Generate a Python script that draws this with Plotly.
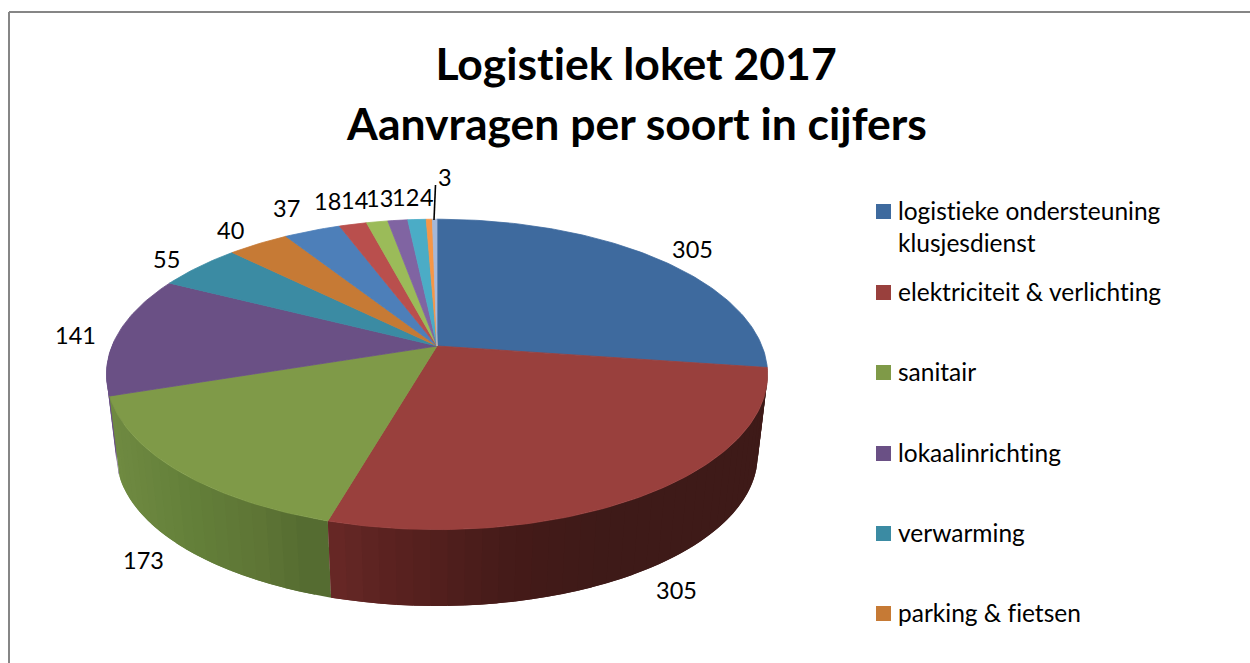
import numpy as np
import plotly.graph_objects as go

# ---- data ----
slice_values = [305, 305, 173, 141, 55, 40, 37, 18, 14, 13, 12, 4, 3]
slice_colors = ["#3e6a9e", "#99403d", "#7f9a48", "#6a5085", "#3b8ba3", "#c67a35",
                "#4d7fb9", "#b94f4d", "#9bbb59", "#8064a2", "#4bacc6", "#f79646", "#a5b8d8"]
legend_labels = ["logistieke ondersteuning<br>klusjesdienst", "elektriciteit &amp; verlichting",
                 "sanitair", "lokaalinrichting", "verwarming", "parking &amp; fietsen"]
title_lines = ["Logistiek loket 2017", "Aanvragen per soort in cijfers"]

# ---- layout constants (pixels; axes map 1:1 on the page) ----
W, H = 1250, 663
CX, CY = 437, 346            # centre of the top disc
RX, RY, K = 325, 150, 0.183  # perspective disc
BOT_CY, BOT_S = 428, 0.97    # lower disc
FONT = "Lato"
LABEL_POS = [(692, 249), (676, 590), (143, 560), (75, 335), (166, 259), (230, 230), (286, 208),
             (327.5, 201), (354.5, 200), (379, 198), (405, 197), (427, 197), (445, 177)]
LEGEND_X, LEGEND_TEXT_X = 883.5, 898
LEGEND_Y = [211.5, 292.5, 372.5, 453.5, 533.5, 613.5]
TITLE_Y = [62, 122]
LABEL_SIZE, LEGEND_SIZE, TITLE_SIZE = 23.5, 24.5, 44.5


def top_pt(theta):
    s, c = np.sin(theta), np.cos(theta)
    w = 1 + K * c
    return CX + RX * s / w, CY - RY * c / w


def bot_pt(theta):
    s, c = np.sin(theta), np.cos(theta)
    w = 1 + K * c
    return CX + BOT_S * RX * s / w, BOT_CY - BOT_S * RY * c / w


def hex_rgb(h):
    return np.array([int(h[i:i + 2], 16) for i in (1, 3, 5)], dtype=float)


def ramp(stops, x):
    xs = [p[0] for p in stops]
    cols = np.array([hex_rgb(p[1]) for p in stops])
    return "rgb(%d,%d,%d)" % tuple(np.interp(x, xs, cols[:, i]) for i in range(3))


wall_ramps = {
    1: [(330, "#6b2a28"), (400, "#5c2321"), (530, "#451b19"), (620, "#3e1a18"), (770, "#3f1b18")],
    2: [(110, "#708b42"), (200, "#64803a"), (270, "#5f7636"), (330, "#546a30")],
    3: [(0, "#6a5085"), (1250, "#6a5085")],
}

edges = np.concatenate([[0], np.cumsum(slice_values)]) / sum(slice_values) * 2 * np.pi

fig = go.Figure()


def poly(xs, ys, color, width=0.8):
    fig.add_trace(go.Scatter(x=xs, y=ys, mode="lines", fill="toself", fillcolor=color,
                             line=dict(color=color, width=width), hoverinfo="skip", showlegend=False))


# side walls: back-most first (purple sliver, then green, red)
step = np.radians(2.5)
for idx, (a0, a1) in [(3, (edges[3], edges[3] + 0.35)), (2, (edges[2], edges[3])), (1, (edges[1], edges[2]))]:
    n = max(int((a1 - a0) / step), 1)
    grid = np.linspace(a0, a1, n + 1)
    # walked from the far end so that each band overlaps the previous one and no seam shows
    for i in range(n - 1, -1, -1):
        lo = grid[i] if i > 0 else a0
        hi = min(grid[i + 1] + step, a1)
        t = np.linspace(lo, hi, 5)
        tx, ty = top_pt(t)
        bx, by = bot_pt(t)
        mid = float(top_pt((grid[i] + grid[i + 1]) / 2)[0])
        poly(list(tx) + list(bx[::-1]) + [tx[0]], list(ty) + list(by[::-1]) + [ty[0]],
             ramp(wall_ramps[idx], mid), width=0)

# top face
for i in range(len(slice_values)):
    n = max(int((edges[i + 1] - edges[i]) / np.radians(1)), 2)
    t = np.linspace(edges[i], edges[i + 1], n + 1)
    tx, ty = top_pt(t)
    poly([CX] + list(tx) + [CX], [CY] + list(ty) + [CY], slice_colors[i])

# leader line of the smallest slice
fig.add_trace(go.Scatter(x=[435.5, 434], y=[185, 220], mode="lines", line=dict(color="#000000", width=1.6),
                         hoverinfo="skip", showlegend=False))

# legend swatches
fig.add_trace(go.Scatter(x=[LEGEND_X] * len(legend_labels), y=LEGEND_Y, mode="markers",
                         marker=dict(symbol="square", size=15, color=slice_colors[:len(legend_labels)], line=dict(width=0)),
                         hoverinfo="skip", showlegend=False))

annotations = []
for val, (lx, ly) in zip(slice_values, LABEL_POS):
    annotations.append(dict(x=lx, y=ly, text=str(val), showarrow=False, xanchor="center", yanchor="middle",
                            font=dict(family=FONT, size=LABEL_SIZE, color="#000000")))
for lab, ly in zip(legend_labels, LEGEND_Y):
    annotations.append(dict(x=LEGEND_TEXT_X, y=ly - 18, text=lab, showarrow=False, xanchor="left", yanchor="top",
                            align="left", xshift=-2, font=dict(family=FONT, size=LEGEND_SIZE, color="#000000")))
for line, ly in zip(title_lines, TITLE_Y):
    annotations.append(dict(x=636, y=ly, text="<b>" + line + "</b>", showarrow=False, xanchor="center",
                            yanchor="middle", font=dict(family=FONT, size=TITLE_SIZE, color="#000000")))

fig.update_layout(
    width=W, height=H, margin=dict(l=0, r=0, t=0, b=0), autosize=False,
    paper_bgcolor="#ffffff", plot_bgcolor="#ffffff", showlegend=False, annotations=annotations,
    xaxis=dict(range=[0, W], visible=False, fixedrange=True),
    yaxis=dict(range=[H, 0], visible=False, fixedrange=True),
    shapes=[dict(type="line", x0=9, x1=9, y0=12, y1=H, line=dict(color="#868686", width=2)),
            dict(type="line", x0=9, x1=W, y0=12, y1=12, line=dict(color="#868686", width=2))],
)
fig.write_html("out.html", config={"displayModeBar": False},
               post_script="document.body.style.margin='0';document.body.style.overflow='hidden';"
                           "var s=document.createElement('style');"
                           "s.textContent='text,tspan{font-variant-ligatures:none !important;}';"
                           "document.head.appendChild(s);")
